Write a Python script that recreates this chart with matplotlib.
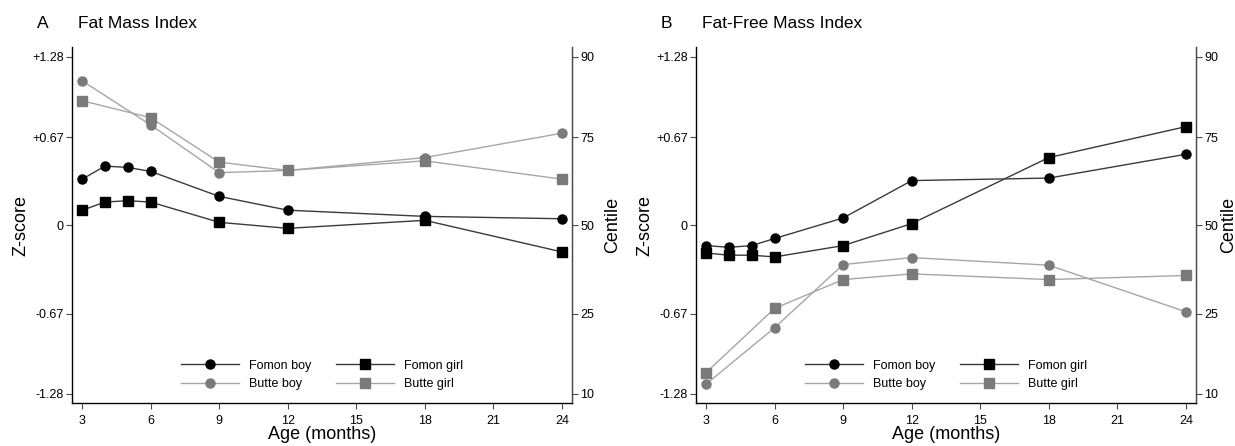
import matplotlib
matplotlib.use('Agg')
import matplotlib.pyplot as plt

plt.rcParams['font.family'] = ['Liberation Sans', 'DejaVu Sans']

# ages (months)
fomon_age = [3, 4, 5, 6, 9, 12, 18, 24]
butte_age = [3, 6, 9, 12, 18, 24]

# z-score axis ticks and matching centiles
z_ticks = [-1.28, -0.67, 0, 0.67, 1.28]
z_labels = ['-1.28', '-0.67', '0', '+0.67', '+1.28']
centile_labels = ['10', '25', '50', '75', '90']
x_ticks = [3, 6, 9, 12, 15, 18, 21, 24]

# panel A: fat mass index
fmi_fomon_boy = [0.35, 0.45, 0.44, 0.41, 0.22, 0.115, 0.068, 0.05]
fmi_fomon_girl = [0.114, 0.177, 0.187, 0.177, 0.023, -0.023, 0.038, -0.202]
fmi_butte_boy = [1.098, 0.763, 0.40, 0.417, 0.515, 0.70]
fmi_butte_girl = [0.947, 0.818, 0.48, 0.417, 0.49, 0.351]

# panel B: fat-free mass index
ffmi_fomon_boy = [-0.154, -0.167, -0.154, -0.10, 0.056, 0.34, 0.359, 0.54]
ffmi_fomon_girl = [-0.21, -0.227, -0.227, -0.24, -0.154, 0.013, 0.515, 0.75]
ffmi_butte_boy = [-1.207, -0.778, -0.298, -0.245, -0.303, -0.657]
ffmi_butte_girl = [-1.119, -0.631, -0.412, -0.369, -0.412, -0.381]

DARK = '#000000'
DARK_LINE = '#3a3a3a'
GREY = '#7a7a7a'
GREY_LINE = '#a6a6a6'
SPINE = '#4a4a4a'


def draw_panel(ax, letter, title, fb, fg, bb, bg, centile_pad):
    ax.plot(fomon_age, fb, color=DARK_LINE, lw=1.0, marker='o', ms=6.5,
            mfc=DARK, mec=DARK, label='Fomon boy')
    ax.plot(fomon_age, fg, color=DARK_LINE, lw=1.0, marker='s', ms=6.5,
            mfc=DARK, mec=DARK, label='Fomon girl')
    ax.plot(butte_age, bb, color=GREY_LINE, lw=1.0, marker='o', ms=6.5,
            mfc=GREY, mec=GREY, label='Butte boy')
    ax.plot(butte_age, bg, color=GREY_LINE, lw=1.0, marker='s', ms=6.5,
            mfc=GREY, mec=GREY, label='Butte girl')

    ax.set_xlim(2.56, 24.44)
    ax.set_ylim(-1.35, 1.355)
    ax.set_xticks(x_ticks)
    ax.set_yticks(z_ticks)
    ax.set_yticklabels(z_labels)
    ax.spines['top'].set_visible(False)
    for s in ['left', 'bottom', 'right']:
        ax.spines[s].set_color(SPINE)
        ax.spines[s].set_linewidth(1.0)
    ax.tick_params(axis='both', labelsize=9, length=4, color=SPINE, pad=2)
    ax.tick_params(axis='x', pad=5)
    ax.set_xlabel('Age (months)', fontsize=13, labelpad=-1)
    ax.set_ylabel('Z-score', fontsize=13, labelpad=2)

    ax2 = ax.twinx()
    ax2.set_ylim(ax.get_ylim())
    ax2.set_yticks(z_ticks)
    ax2.set_yticklabels(centile_labels)
    ax2.spines['top'].set_visible(False)
    ax2.spines['right'].set_color(SPINE)
    ax2.tick_params(axis='y', labelsize=9, length=4, color=SPINE, pad=2)
    ax2.set_ylabel('Centile', fontsize=13, labelpad=centile_pad)

    handles, labels = ax.get_legend_handles_labels()
    order = [0, 2, 1, 3]
    ax.legend([handles[i] for i in order], [labels[i] for i in order],
              loc='lower center', ncol=2, frameon=False, fontsize=9,
              handlelength=4.6, handletextpad=0.8, columnspacing=2.0,
              labelspacing=0.55, borderaxespad=0.6)

    fig = ax.figure
    x0 = ax.get_position().x0
    fig.text(x0 - 35 / 1235, 1 - 23 / 446, letter, fontsize=12.5, va='center', ha='left')
    fig.text(x0 + 6 / 1235, 1 - 23 / 446, title, fontsize=12.5, va='center', ha='left')


fig = plt.figure(figsize=(12.35, 4.46), dpi=100)
axA = fig.add_axes([72 / 1235, 43 / 446, 500 / 1235, 356 / 446])
axB = fig.add_axes([696 / 1235, 43 / 446, 500 / 1235, 356 / 446])

draw_panel(axA, 'A', 'Fat Mass Index', fmi_fomon_boy, fmi_fomon_girl,
           fmi_butte_boy, fmi_butte_girl, 7)
draw_panel(axB, 'B', 'Fat-Free Mass Index', ffmi_fomon_boy, ffmi_fomon_girl,
           ffmi_butte_boy, ffmi_butte_girl, 1)

fig.savefig('out.png', dpi=100)
